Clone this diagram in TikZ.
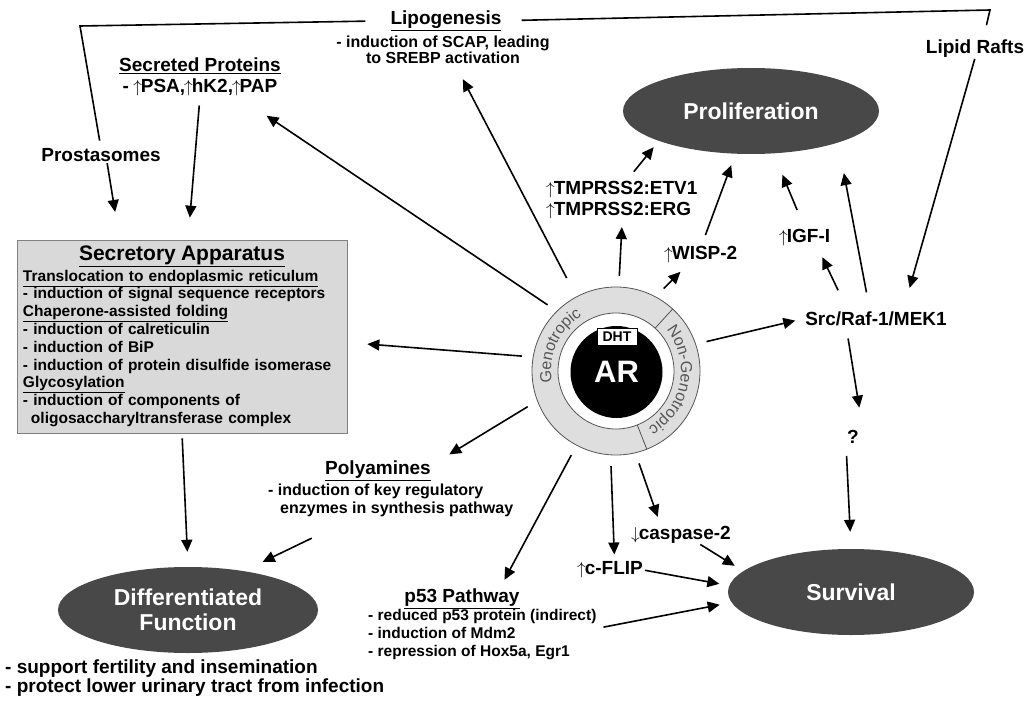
\documentclass[tikz,border=0pt]{standalone}
\usepackage{fontspec}
\setmainfont{Liberation Sans}
\usepackage{tikz}
\usetikzlibrary{arrows.meta, shapes.geometric, decorations.text}

\definecolor{ovalgray}{RGB}{72,72,72}
\definecolor{boxgray}{RGB}{217,217,217}
\definecolor{ringgray}{RGB}{222,222,222}
\definecolor{ringline}{RGB}{85,85,85}
\newcommand{\incr}{\kern-1pt$\uparrow$\kern-1pt}
\newcommand{\decr}{\kern-1pt$\downarrow$\kern-1pt}

\begin{document}
\begin{tikzpicture}[x=1pt, y=1pt,
  lbl/.style = {inner sep=0pt, font=\bfseries\fontsize{19}{21}\selectfont},
  txt/.style = {inner sep=0pt, align=left, font=\bfseries\fontsize{16}{18}\selectfont},
  oval/.style = {ellipse, fill=ovalgray, text=white, inner sep=0pt, minimum height=86pt, font=\bfseries\fontsize{23}{25}\selectfont},
  arr/.style = {-{Triangle[length=12pt, width=11pt]}, line width=1.6pt},
  joinline/.style = {line width=1.6pt}]
\useasboundingbox (0,0) rectangle (1026,-701);

% outcomes
\node[oval, minimum width=256pt] (prolif) at (751,-111) {Proliferation};
\node[oval, minimum width=260pt, align=center] (diff) at (188,-610) {Differentiated\\Function};
\node[oval, minimum width=246pt] (surv) at (851,-592) {Survival};

% secretory apparatus
\node[draw=gray, fill=boxgray, line width=0.8pt, minimum width=330pt, minimum height=193pt,
      text width=318pt, inner sep=0pt, align=left, font=\bfseries\fontsize{15.5}{17.8}\selectfont] (sec) at (182,-336.5) {%
  \hyphenpenalty=10000
  \makebox[318pt]{\fontsize{21}{21}\selectfont\underline{Secretory Apparatus}}\\[2.4pt]
  \underline{Translocation to endoplasmic reticulum}\\
  - induction of signal sequence receptors\\
  \underline{Chaperone-assisted folding}\\
  - induction of calreticulin\\
  - induction of BiP\\
  - induction of protein disulfide isomerase\\
  \underline{Glycosylation}\\
  - induction of components of\\
  \hspace*{8pt}oligosaccharyltransferase complex};

% labels
\node[lbl, anchor=base] (lipo) at (446,-24.6) {\underline{Lipogenesis}};
\node[txt, align=center, anchor=north] (lipob) at (443,-36) {- induction of SCAP, leading\\[-2pt]to SREBP activation};
\node[lbl, align=center, anchor=north] (secp) at (200,-58) {\underline{Secreted Proteins}\\- \incr PSA,\incr hK2,\incr PAP};
\node[lbl, anchor=base] (prost) at (101,-161.8) {Prostasomes};
\node[lbl, anchor=base] (rafts) at (975,-53.8) {Lipid Rafts};
\node[lbl, align=left, anchor=north west] (tmp) at (547,-181) {\incr TMPRSS2:ETV1\\\incr TMPRSS2:ERG};
\node[lbl, anchor=base west] (wisp) at (665,-259.8) {\incr WISP-2};
\node[lbl, anchor=base west] (igf) at (780,-242.8) {\incr IGF-I};
\node[lbl, anchor=base] (src) at (876,-325) {Src/Raf-1/MEK1};
\node[lbl, anchor=base] (q) at (853,-443.8) {?};
\node[lbl, anchor=base west] (casp) at (632,-539.8) {\decr caspase-2};
\node[lbl, anchor=base west] (flip) at (578,-574.8) {\incr c-FLIP};
\node[lbl, anchor=base] (poly) at (378,-474.6) {\underline{Polyamines}};
\node[txt, anchor=north west] (polyb) at (268,-484) {- induction of key regulatory\\\hspace*{12pt}enzymes in synthesis pathway};
\node[lbl, anchor=base] (p53) at (462,-602.6) {\underline{p53 Pathway}};
\node[txt, anchor=north west, font=\bfseries\fontsize{15.5}{18}\selectfont] (p53b) at (368,-609) {- reduced p53 protein (indirect)\\- induction of Mdm2\\- repression of Hox5a, Egr1};
\node[txt, anchor=north west, font=\bfseries\fontsize{19}{19}\selectfont] (difft) at (5,-660) {- support fertility and insemination\\- protect lower urinary tract from infection};

% androgen receptor
\node[circle, minimum size=190pt, inner sep=0pt] (ar) at (616,-371) {};
\fill[ringgray, draw=ringline, line width=0.8pt] (ar.center) circle (84pt);
\fill[white, draw=ringline, line width=0.8pt] (ar.center) circle (58pt);
\draw[ringline, line width=0.8pt] ([shift={(47.6:58pt)}]ar.center) -- ([shift={(47.6:84pt)}]ar.center)
  ([shift={(-68.5:58pt)}]ar.center) -- ([shift={(-68.5:84pt)}]ar.center);
\path[decorate, decoration={text along path, text align=center,
  text={|\fontsize{16}{16}\selectfont\color{ringline}|Genotropic}}]
  ([shift={(192:65pt)}]ar.center) arc[start angle=192, end angle=120, radius=65pt];
\path[decorate, decoration={text along path, text align=center,
  text={|\fontsize{16}{16}\selectfont\color{ringline}|Non-Genotropic}}]
  ([shift={(45:65pt)}]ar.center) arc[start angle=45, end angle=-66, radius=65pt];
\node[circle, fill=black, minimum size=92pt, inner sep=0pt, text=white,
      font=\bfseries\fontsize{31}{31}\selectfont] (arcore) at (616.5,-372) {AR};
\node[fill=white, draw=black, line width=0.6pt, inner sep=0pt, minimum width=40pt, minimum height=17pt,
      font=\bfseries\fontsize{14}{14}\selectfont] (dht) at (617,-336.5) {DHT};

% bracket at the top
\coordinate (tl) at (80,-26);
\coordinate (tr) at (990,-10);
\draw[joinline, shorten <=8pt, shorten >=25pt] (prost.north) -- (tl) -- (lipo.west);
\draw[joinline, shorten <=20pt, shorten >=15pt] (lipo.east) -- (tr) -- ([xshift=8pt]rafts.north);

% arrows out of AR
\draw[arr, shorten >=20pt] (ar.171.5) -- ([yshift=-6pt]sec.east);
\draw[arr, shorten >=20pt] (ar.136) -- ([xshift=-31pt, yshift=-8pt]secp.south east);
\draw[arr, shorten <=10pt, shorten >=17pt] (ar.118.7) -- ([xshift=12pt]lipob.south);
\draw[arr, shorten >=8pt] (ar.88) -- (tmp.south);
\draw[arr, shorten >=12pt] (ar.60) -- ([xshift=24pt]wisp.south west);
\draw[arr, shorten >=10pt] (ar.18) -- (src.west);
\draw[arr, shorten >=12pt] (ar.202.6) -- ([xshift=8pt]poly.north east);
\draw[arr, shorten >=10pt] (ar.242) -- ([xshift=-20pt]p53.north east);
\draw[arr, shorten >=7pt] (ar.267.5) -- ([xshift=4pt]flip.north);
\draw[arr, shorten >=10pt] (ar.284.5) -- ([xshift=29pt]casp.north west);

% proliferation
\draw[arr, shorten <=12pt, shorten >=8pt] ([xshift=4pt]tmp.north) -- (prolif.198);
\draw[arr, shorten <=12pt, shorten >=12pt] (wisp.north) -- (prolif.250);
\draw[arr, shorten <=21pt, shorten >=23pt] (igf.north) -- (prolif.-62);
\draw[arr, shorten <=23pt, shorten >=12pt] ([xshift=-28pt]src.north) -- ([xshift=12pt]igf.south);
\draw[arr, shorten <=19pt, shorten >=31pt] ([xshift=-6pt]src.north) -- (prolif.-20);
\draw[arr, shorten <=1pt, shorten >=24pt] (rafts.south) -- ([xshift=27pt]src.north);

% survival
\draw[arr, shorten <=13pt, shorten >=23pt] ([xshift=-30pt]src.south) -- ([xshift=10pt]q.north);
\draw[arr, shorten <=12pt, shorten >=17pt] ([xshift=-7pt]q.south) -- (surv.north);
\draw[arr, shorten <=2pt, shorten >=10pt] (flip.east) -- (surv.177);
\draw[arr, shorten <=1pt, shorten >=10pt] ([xshift=18pt]casp.south) -- (surv.169);
\draw[arr, shorten <=7pt, shorten >=12pt] ([yshift=6pt]p53b.east) -- (surv.185);

% secretion and differentiation
\draw[arr, shorten <=1pt, shorten >=28pt] ([xshift=6pt]prost.south) -- ([xshift=103pt]sec.north west);
\draw[arr, shorten <=9pt, shorten >=22pt] (secp.south) -- ([xshift=6pt]sec.north);
\draw[arr, shorten <=5pt, shorten >=15pt] (sec.south) -- (diff.north);
\draw[arr, shorten <=48pt, shorten >=21pt] ([xshift=87pt]polyb.south west) -- (diff.35);
\end{tikzpicture}
\end{document}
